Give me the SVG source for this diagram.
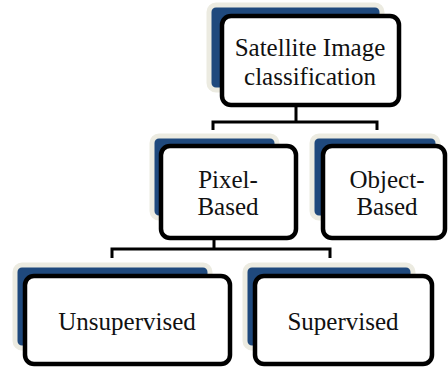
<svg xmlns="http://www.w3.org/2000/svg" width="448" height="367" viewBox="0 0 448 367">
<style>
.back{fill:#1f497d;stroke:#ecebe1;stroke-width:5}
.front{fill:#fff;stroke:#000;stroke-width:4.5}
.lbl{font-family:'Liberation Serif','DejaVu Serif',serif;font-size:25px;fill:#111;text-anchor:middle}
.conn{fill:none;stroke:#000;stroke-width:3}
</style>
<rect width="448" height="367" fill="#fff"/>
<g id="connectors">
<path class="conn" d="M296,105 V122 M213,130 V122 H377 V130"/>
<path class="conn" d="M214,238 V249 M112,258 V249 H330 V258"/>
</g>
<g id="n-satellite">
<rect class="back" x="209" y="5" width="173" height="85" rx="7"/>
<rect class="front" x="222" y="16" width="177" height="89" rx="9"/>
<text class="lbl" x="310" y="56">Satellite Image</text>
<text class="lbl" x="310" y="85">classification</text>
</g>
<g id="n-pixel">
<rect class="back" x="152" y="136" width="125" height="82" rx="7"/>
<rect class="front" x="161" y="146" width="135" height="92" rx="9"/>
<text class="lbl" x="228" y="188">Pixel-</text>
<text class="lbl" x="228" y="215">Based</text>
</g>
<g id="n-object">
<rect class="back" x="312" y="136" width="126" height="82" rx="7"/>
<rect class="front" x="323" y="146" width="122" height="92" rx="9"/>
<text class="lbl" x="387" y="188">Object-</text>
<text class="lbl" x="387" y="215">Based</text>
</g>
<g id="n-unsupervised">
<rect class="back" x="15" y="265" width="195" height="83" rx="7"/>
<rect class="front" x="25" y="276" width="205" height="88" rx="9"/>
<text class="lbl" x="127" y="330">Unsupervised</text>
</g>
<g id="n-supervised">
<rect class="back" x="245" y="265" width="168" height="83" rx="7"/>
<rect class="front" x="255" y="276" width="177" height="88" rx="9"/>
<text class="lbl" x="343" y="330">Supervised</text>
</g>
</svg>
